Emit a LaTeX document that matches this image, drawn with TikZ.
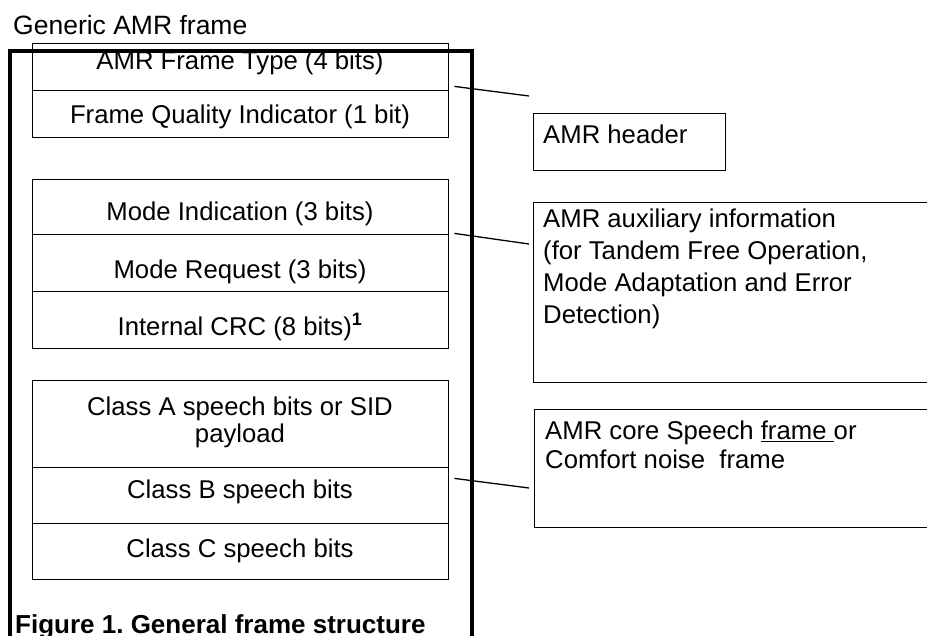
\documentclass[tikz,border=0pt]{standalone}
\usepackage{fontspec}
\setmainfont{Liberation Sans}
\frenchspacing
\begin{document}
\begin{tikzpicture}[x=1pt,y=-1pt,
  cell/.style={draw, line width=1.4pt, minimum width=416pt, inner sep=0pt, anchor=north west},
  txt/.style={inner sep=0pt, anchor=base, font=\fontsize{25.7}{27}\selectfont},
  note/.style={draw, line width=1.3pt, inner sep=0pt, anchor=north west},
  notetxt/.style={inner sep=0pt, anchor=north west, align=left, font=\fontsize{25.7}{32}\selectfont},
  link/.style={line width=1.3pt},
  outer/.style={line width=4pt}]
\useasboundingbox (0,0) rectangle (927,635);
\clip (0,0) rectangle (927,635);

% title
\node[txt, anchor=base west, font=\fontsize{26.5}{31}\selectfont] (title) at (13,34) {Generic AMR frame};

% header fields
\node[cell, minimum height=47pt] (ft) at (32,43) {};
\node[cell, minimum height=47pt] (fq) at (32,90) {};
\node[txt] (ftT) at (240,69) {AMR Frame Type (4 bits)};
\node[txt] (fqT) at (240,123) {Frame Quality Indicator (1 bit)};

% auxiliary fields
\node[cell, minimum height=55pt] (mi) at (32,179) {};
\node[cell, minimum height=57pt] (mr) at (32,234) {};
\node[cell, minimum height=57pt] (crc) at (32,291) {};
\node[txt] (miT) at (240,220) {Mode Indication (3 bits)};
\node[txt] (mrT) at (240,278) {Mode Request (3 bits)};
\node[txt] (crcT) at (240,335) {Internal CRC (8 bits)\textsuperscript{\textbf{1}}};

% speech fields
\node[cell, minimum height=87pt] (ca) at (32,380) {};
\node[cell, minimum height=56pt] (cb) at (32,467) {};
\node[cell, minimum height=56pt] (cc) at (32,523) {};
\node[txt] (caT) at (240,415) {Class A speech bits or SID};
\node[txt] (caT2) at (240,442) {payload};
\node[txt] (cbT) at (240,498) {Class B speech bits};
\node[txt] (ccT) at (240,557) {Class C speech bits};

% enclosing frame
\draw[outer] (10,640) -- (10,51) -- (472,51) -- (472,640);

% caption
\node[txt, anchor=base west, font=\fontsize{26}{31}\selectfont\bfseries] (cap) at (15,633) {Figure 1. General frame structure};

% annotation boxes
\node[note, minimum width=192pt, minimum height=57pt] (hdr) at (533,113) {};
\node[notetxt] (hdrT) at (543,125) {AMR header};
\node[note, minimum width=420pt, minimum height=180pt] (aux) at (533,202) {};
\node[notetxt] (auxT) at (543,209) {AMR auxiliary information\\(for Tandem Free Operation,\\Mode Adaptation and Error\\Detection)};
\node[note, minimum width=420pt, minimum height=118pt] (spc) at (534,409) {};
\node[notetxt, font=\fontsize{25.7}{29}\selectfont] (spcT) at (545,421) {AMR core Speech \underline{frame\ }or\\Comfort noise\ \ frame};

% connectors
\draw[link] ([xshift=5pt,yshift=5pt]ft.south east) -- ([xshift=-4pt,yshift=17pt]hdr.north west);
\draw[link] ([xshift=5pt,yshift=2pt]mi.south east) -- ([xshift=-4pt,yshift=-42pt]aux.north west);
\draw[link] ([xshift=5pt,yshift=-10pt]ca.south east) -- ([xshift=-5pt,yshift=-79pt]spc.north west);
\end{tikzpicture}
\end{document}
